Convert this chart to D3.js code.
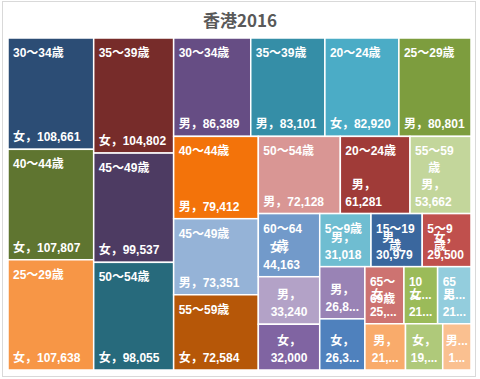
<!DOCTYPE html>
<html>
<head>
<meta charset="utf-8">
<script src="https://cdn.jsdelivr.net/npm/d3@7"></script>
<style>
  body { margin: 0; background: #fff; }
  svg { display: block; }
</style>
</head>
<body>
<svg id="chart" width="480" height="379"></svg>
<script>
// ---- data (small cells are estimates) ----
const femaleAges = ['０～４歳', '5～9歳', '10～14歳', '１５～１９歳', '20～24歳', '25～29歳', '30～34歳',
  '35～39歳', '40～44歳', '45～49歳', '50～54歳', '55～59歳', '60～64歳', '65～69歳', '70歳以上'];
const maleAges = ['0～4歳', '5～9歳', '10～14歳', '15～19歳', '20～24歳', '25～29歳', '30～34歳',
  '35～39歳', '40～44歳', '45～49歳', '50～54歳', '55～59歳', '60～64歳', '65～69歳', '70歳以上'];
const femaleValues = [26300, 29500, 21900, 32000, 82920, 107638, 108661, 104802, 107807, 99537, 98055, 72584, 44163, 25400, 19600];
const maleValues = [26850, 31018, 21400, 30979, 61281, 80801, 86389, 83101, 79412, 73351, 72128, 53662, 33240, 21700, 14900];

// office palette, one colour per series in sheet order
const femaleColors = ['#4F81BD', '#C0504D', '#9BBB59', '#8064A2', '#4BACC6', '#F79646',
  '#2C4D75', '#772C2A', '#5F7530', '#4D3B62', '#276A7C', '#B65708',
  '#729ACA', '#CD7371', '#AFC97A'];
const maleColors = ['#9983B5', '#6FBDD1', '#F9AB6B',
  '#3A679E', '#A03B38', '#7D9D3E', '#664D84', '#358EA7', '#F3730A',
  '#95B3D7', '#D99694', '#C3D69B', '#B3A2C7', '#93CDDD', '#FAC090'];

const width = 480, height = 379;
const margin = {top: 38, right: 9, bottom: 9, left: 8};
const innerW = width - margin.left - margin.right;
const innerH = height - margin.top - margin.bottom;
const titleFont = '"Noto Sans CJK JP", "Noto Sans", sans-serif';
const font = '"Liberation Sans", "Noto Sans CJK JP", sans-serif';
const lineH = 17;
const cellRatio = 1.1; // excel leans to slightly tall cells

const cells = [];
femaleAges.forEach((a, i) => cells.push({age: a, sex: '女', value: femaleValues[i], color: femaleColors[i]}));
maleAges.forEach((a, i) => cells.push({age: a, sex: '男', value: maleValues[i], color: maleColors[i]}));

// squarify, but aiming at h/w = cellRatio instead of 1
function tile(parent, x0, y0, x1, y1) {
  const nodes = parent.children;
  let value = parent.value, i0 = 0;
  while (i0 < nodes.length) {
    const dx = x1 - x0, dy = y1 - y0;
    const dice = dx < dy * cellRatio;
    const side = dice ? dx : dy;
    let best = Infinity, i1 = i0 + 1, sum = nodes[i0].value, s = 0;
    for (let i = i0; i < nodes.length; i++) {
      s += nodes[i].value;
      const thick = (dice ? dy : dx) * s / value;
      let worst = 0;
      for (let j = i0; j <= i; j++) {
        const len = side * nodes[j].value / s;
        const hw = dice ? thick / len : len / thick;
        worst = Math.max(worst, hw / cellRatio, cellRatio / hw);
      }
      if (worst > best) break;
      best = worst; i1 = i + 1; sum = s;
    }
    const row = {value: sum, children: nodes.slice(i0, i1)};
    if (dice) d3.treemapDice(row, x0, y0, x1, y0 += dy * sum / value);
    else d3.treemapSlice(row, x0, y0, x0 += dx * sum / value, y1);
    value -= sum;
    i0 = i1;
  }
}

const root = d3.hierarchy({children: cells})
  .sum(d => d.value || 0)
  .sort((a, b) => b.value - a.value);

d3.treemap().tile(tile).size([innerW, innerH])(root);

const svg = d3.select('#chart');

svg.append('rect')
  .attr('x', 2.5).attr('y', 1.5)
  .attr('width', 473).attr('height', 375)
  .attr('fill', '#fff')
  .attr('stroke', '#d9d9d9');

svg.append('text')
  .attr('x', 240).attr('y', 27)
  .attr('text-anchor', 'middle')
  .attr('font-family', titleFont)
  .attr('font-size', 17)
  .attr('font-weight', 'bold')
  .attr('fill', '#595959')
  .text('香港2016');

const measurer = svg.append('text')
  .attr('font-family', font).attr('font-size', 12).attr('font-weight', 'bold')
  .attr('visibility', 'hidden');
function textWidth(s) {
  measurer.text(s);
  return measurer.node().getComputedTextLength();
}
function fit(s, maxW) {
  if (textWidth(s) <= maxW) return s;
  let t = s;
  while (t.length > 1 && textWidth(t + '...') > maxW) t = t.slice(0, -1);
  return t + '...';
}
function wrap(text, maxW) {
  const tokens = text.match(/[0-9A-Za-z][0-9A-Za-z,.]*|\S[,，]?|\s+/g);
  const lines = [];
  let line = '', space = false;
  tokens.forEach(t => {
    if (/^\s+$/.test(t)) { space = true; return; }
    const test = line ? line + (space ? ' ' : '') + t : t;
    if (!line || textWidth(test) <= maxW) line = test;
    else { lines.push(line); line = t; }
    space = false;
  });
  if (line) lines.push(line);
  return lines.map(l => fit(l, maxW));
}

const fmt = d3.format(',');

const g = svg.append('g')
  .attr('transform', 'translate(' + margin.left + ',' + margin.top + ')');

const leaf = g.selectAll('g.cell')
  .data(root.leaves())
  .join('g')
  .attr('class', 'cell')
  .attr('transform', d => 'translate(' + d.x0 + ',' + d.y0 + ')');

leaf.append('clipPath')
  .attr('id', (d, i) => 'clip' + i)
  .append('rect')
  .attr('width', d => d.x1 - d.x0)
  .attr('height', d => d.y1 - d.y0);

leaf.append('rect')
  .attr('width', d => d.x1 - d.x0)
  .attr('height', d => d.y1 - d.y0)
  .attr('fill', d => d.data.color)
  .attr('stroke', '#fff')
  .attr('stroke-width', 1.5);

// draws a block of lines, lines centred on the widest one
function block(sel, lines, left, centre, baselines) {
  const bw = d3.max(lines, textWidth);
  const cx = centre === null ? left + bw / 2 : centre;
  lines.forEach((l, i) => {
    if (baselines[i] === null) return;
    sel.append('text')
      .attr('x', cx).attr('y', baselines[i])
      .attr('text-anchor', 'middle')
      .text(l);
  });
}

leaf.each(function(d, i) {
  const w = d.x1 - d.x0, h = d.y1 - d.y0;
  const labels = d3.select(this).append('g')
    .attr('clip-path', 'url(#clip' + i + ')')
    .attr('font-family', font)
    .attr('font-size', 12)
    .attr('font-weight', 'bold')
    .attr('fill', '#fff');
  const top = wrap(d.data.age, w - 11.5);
  const bottom = wrap(d.data.sex + '，' + fmt(d.data.value), w - 10);
  const bottomBase = bottom.map((l, k) => h - 8 - (bottom.length - 1 - k) * lineH);
  if (h >= 52.5) {
    const limit = bottomBase[0] + 8;
    const topBase = top.map((l, k) => (19 + k * lineH <= limit ? 19 + k * lineH : null));
    block(labels, top, 5, null, topBase);
    block(labels, bottom, 5, null, bottomBase);
  } else {
    block(labels, bottom, 0, w / 2, bottomBase);
  }
});
</script>
</body>
</html>
